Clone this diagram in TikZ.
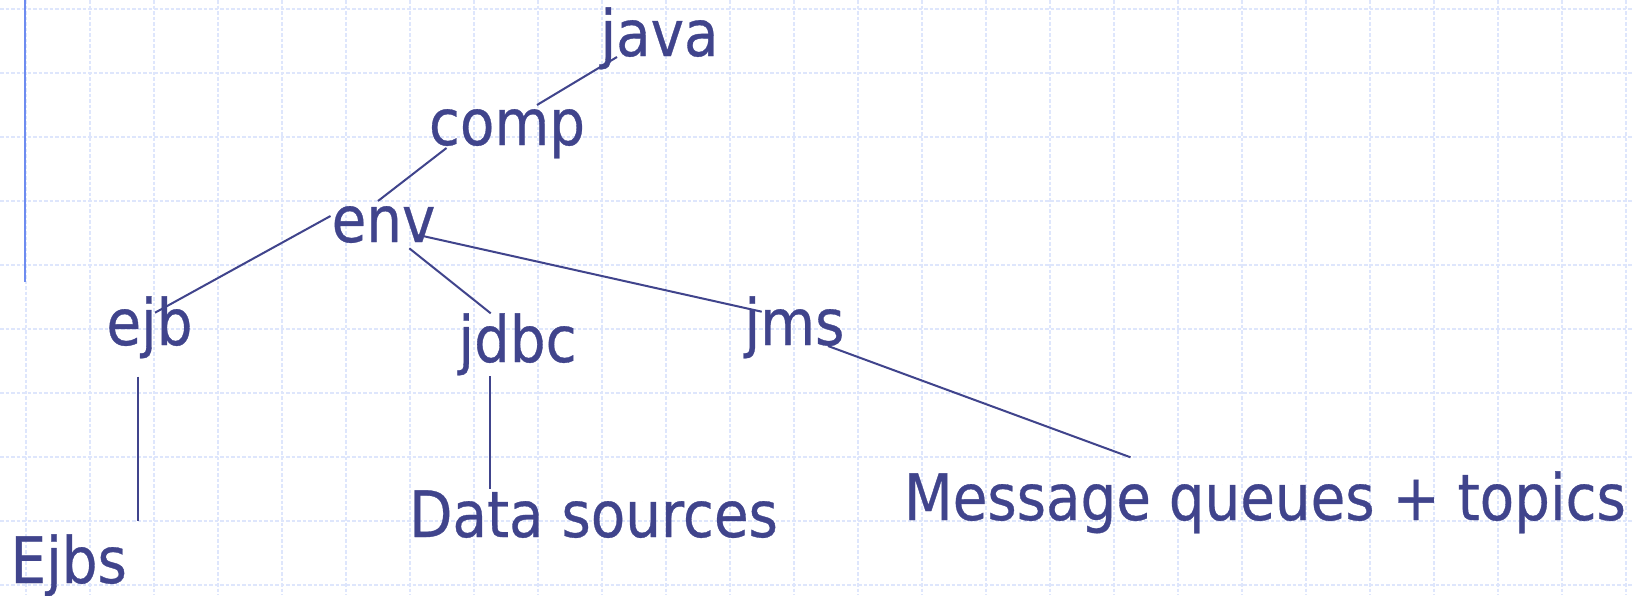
\documentclass[tikz,border=0pt]{standalone}
\usepackage{fontspec}
\setmainfont[FakeStretch=0.88,FakeBold=0.5]{DejaVu Sans}
\definecolor{ink}{RGB}{64,68,140}
\definecolor{gridc}{RGB}{222,230,252}
\definecolor{barc}{RGB}{110,140,240}
\begin{document}
\begin{tikzpicture}[x=1pt,y=-1pt,
  lbl/.style={inner sep=0pt, anchor=base, text=ink, font=\fontsize{64}{70}\selectfont},
  link/.style={draw=ink, line width=2pt},
  gridline/.style={draw=gridc, line width=1.5pt, dash pattern=on 3.5pt off 2pt}]
\useasboundingbox (0,0) rectangle (1633,595);
\fill[white] (0,0) rectangle (1633,595);
\foreach \i in {0,...,25} \draw[gridline] (26+64*\i,0) -- (26+64*\i,595);
\foreach \j in {0,...,9} \draw[gridline] (0,9+64*\j) -- (1633,9+64*\j);
\draw[draw=barc, line width=2.5pt] (25,0) -- (25,282);
% nodes
\node[lbl] (java) at (659.5,56) {java};
\node[lbl] (comp) at (507,145) {comp};
\node[lbl] (env) at (383.5,242) {env};
\node[lbl] (ejb) at (149.5,345) {ejb};
\node[lbl] (jdbc) at (517.5,362) {jdbc};
\node[lbl] (jms) at (794.5,345) {jms};
\node[lbl] (ejbs) at (68.7,583) {Ejbs};
\node[lbl] (data) at (593.5,537) {Data sources};
\node[lbl] (msg) at (1265,520) {Message queues + topics};
% connector ends
\coordinate (javaS) at (617,57);
\coordinate (compN) at (537,105);
\coordinate (compS) at (446.5,148);
\coordinate (envN) at (378,201);
\coordinate (envW) at (330.5,216);
\coordinate (ejbN) at (155,312.7);
\coordinate (envSE) at (409.3,248.3);
\coordinate (jdbcN) at (490.7,313.3);
\coordinate (envE) at (418.3,235);
\coordinate (jmsN) at (761.7,311.7);
\coordinate (ejbS) at (138,376.7);
\coordinate (ejbsN) at (138,521);
\coordinate (jdbcS) at (489.5,376);
\coordinate (dataN) at (489.5,489);
\coordinate (jmsS) at (828,346);
\coordinate (msgN) at (1130.5,457.3);
\draw[link] (javaS) -- (compN);
\draw[link] (compS) -- (envN);
\draw[link] (envW) -- (ejbN);
\draw[link] (envSE) -- (jdbcN);
\draw[link] (envE) -- (jmsN);
\draw[link] (ejbS) -- (ejbsN);
\draw[link] (jdbcS) -- (dataN);
\draw[link] (jmsS) -- (msgN);
\end{tikzpicture}
\end{document}
